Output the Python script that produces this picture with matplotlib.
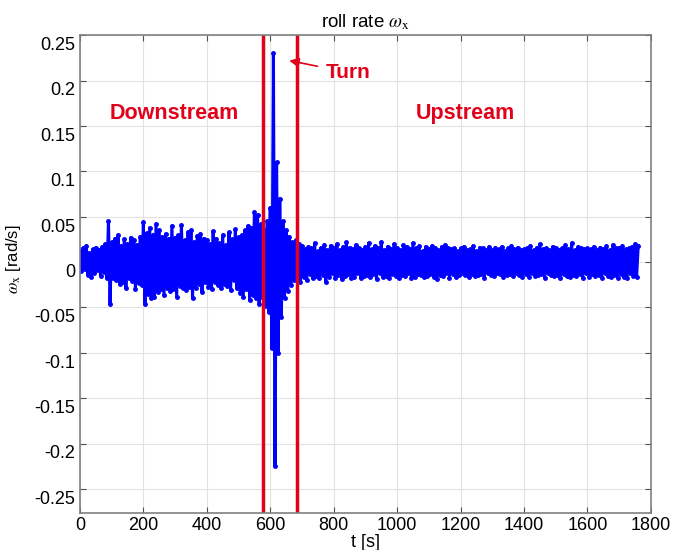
import matplotlib
matplotlib.use("Agg")
import matplotlib.pyplot as plt
import matplotlib.transforms as mtransforms
import numpy as np

plt.rcParams["font.family"] = ["Liberation Sans", "DejaVu Sans"]
plt.rcParams["mathtext.fontset"] = "stix"

# roll rate samples, every 5 s, in mrad/s
dt = 5.0
roll_mrad = [
    12, -10, 15, -8, 18, -14, 10, -16, 14, -12, 16, -9, 13, -15, 17, -11, 20, -18, 45, -46,
    22, -18, 26, -20, 30, -24, 18, -22, 25, -28, 20, -17, 27, -21, 24, -30, 19, -23, 28, -25,
    44, -46, 32, -35, 38, -40, 30, -38, 42, -33, 35, -30, 28, -36, 31, -28, 26, -32, 40, -30,
    27, -38, 30, -26, 41, -29, 24, -31, 33, -27, 35, -40, 22, -28, 29, -24, 31, -33, 26, -22,
    24, -27, 20, -30, 34, -22, 26, -25, 21, -28, 30, -24, 19, -26, 33, -31, 25, -20, 36, -29,
    28, -34, 30, -38, 35, -30, 40, -42, 38, -36, 55, -40, 52, -46, 42, -38, 35, -48, 45, -55,
    60, -95, 230, -225, 110, -100, 70, -60, 45, -40, 35, -32, 28, -25, 22, -20, 24, -18, 20, -22,
    18, -16, 14, -20, 17, -13, 15, -18, 21, -15, 12, -17, 16, -14, 19, -22, 13, -16, 18, -12,
    15, -17, 20, -14, 13, -19, 17, -15, 22, -13, 16, -18, 14, -16, 19, -12, 15, -17, 13, -15,
    17, -14, 21, -16, 14, -13, 18, -19, 15, -12, 22, -16, 13, -15, 17, -18, 14, -13, 20, -15,
    16, -18, 13, -14, 19, -15, 17, -12, 14, -17, 21, -16, 15, -13, 18, -14, 12, -16, 17, -15,
    14, -13, 18, -16, 15, -19, 13, -14, 17, -15, 19, -12, 16, -17, 14, -13, 15, -16, 12, -14,
    15, -12, 17, -14, 13, -16, 14, -13, 18, -15, 12, -14, 16, -13, 15, -17, 13, -12, 17, -14,
    13, -15, 16, -12, 14, -13, 17, -16, 12, -14, 15, -13, 18, -15, 14, -12, 16, -14, 13, -16,
    14, -13, 15, -16, 18, -12, 13, -15, 16, -14, 20, -13, 14, -17, 15, -12, 13, -14, 17, -15,
    16, -14, 13, -18, 15, -13, 19, -15, 14, -16, 21, -14, 13, -15, 17, -13, 15, -17, 14, -12,
    15, -16, 14, -13, 17, -15, 13, -14, 16, -17, 14, -12, 18, -15, 13, -16, 19, -14, 15, -17,
    16, -13, 18, -16, 14, -17, 15, -12, 17, -15, 20, -16, 18,
]
omega_x = np.array(roll_mrad) / 1000.0
t = np.arange(len(omega_x)) * dt

# start and end of the turn manoeuvre [s]
turn_start = 578
turn_end = 683

red = "#e2001a"

fig = plt.figure(figsize=(6.83, 5.5), dpi=100)
ax = fig.add_axes([0.117, 0.068, 0.836, 0.868])

ax.plot(t, omega_x, ".-", color="#0000ff", lw=2.2, ms=5)
ax.axvline(turn_start, color=red, lw=2.5)
ax.axvline(turn_end, color=red, lw=2.5)

ax.text(297, 0.164, "Downstream", color=red, fontsize=15.5, fontweight="bold",
        ha="center", va="center")
ax.text(1214, 0.164, "Upstream", color=red, fontsize=15.5, fontweight="bold",
        ha="center", va="center")
ax.annotate("Turn", xy=(660, 0.222), xytext=(775, 0.209), color=red,
            fontsize=15, fontweight="bold", ha="left", va="center",
            arrowprops=dict(arrowstyle="-|>", color=red, lw=1.2,
                            shrinkA=4, shrinkB=0, mutation_scale=14))

ax.set_xlim(0, 1800)
ax.set_ylim(-0.276, 0.25)
ax.set_xticks(np.arange(0, 1801, 200))
ax.set_yticks(np.arange(-0.25, 0.251, 0.05))
ax.set_yticklabels(["-0.25", "-0.2", "-0.15", "-0.1", "-0.05", "0",
                    "0.05", "0.1", "0.15", "0.2", "0.25"])
ax.grid(True, color="#e2e2e2", lw=0.8)
ax.set_axisbelow(True)
ax.tick_params(direction="in", top=True, right=True, labelsize=13,
               color="#505050", length=4)
ax.tick_params(axis="x", pad=3)

# y labels sit a little below their ticks
shift = mtransforms.ScaledTranslation(0, -6 / 72, fig.dpi_scale_trans)
for lbl in ax.get_yticklabels():
    lbl.set_transform(lbl.get_transform() + shift)

for s in ax.spines.values():
    s.set_color("#808080")
    s.set_linewidth(1.2)

ax.set_title(r"roll rate $\omega_{\mathrm{x}}$", fontsize=13.5, pad=6)
ax.set_xlabel("t [s]", fontsize=13, labelpad=0)
ax.set_ylabel(r"$\omega_{\mathrm{x}}$ [rad/s]", fontsize=12)
ax.yaxis.set_label_coords(-0.1, 0.53)

fig.savefig("out.png", dpi=100)
